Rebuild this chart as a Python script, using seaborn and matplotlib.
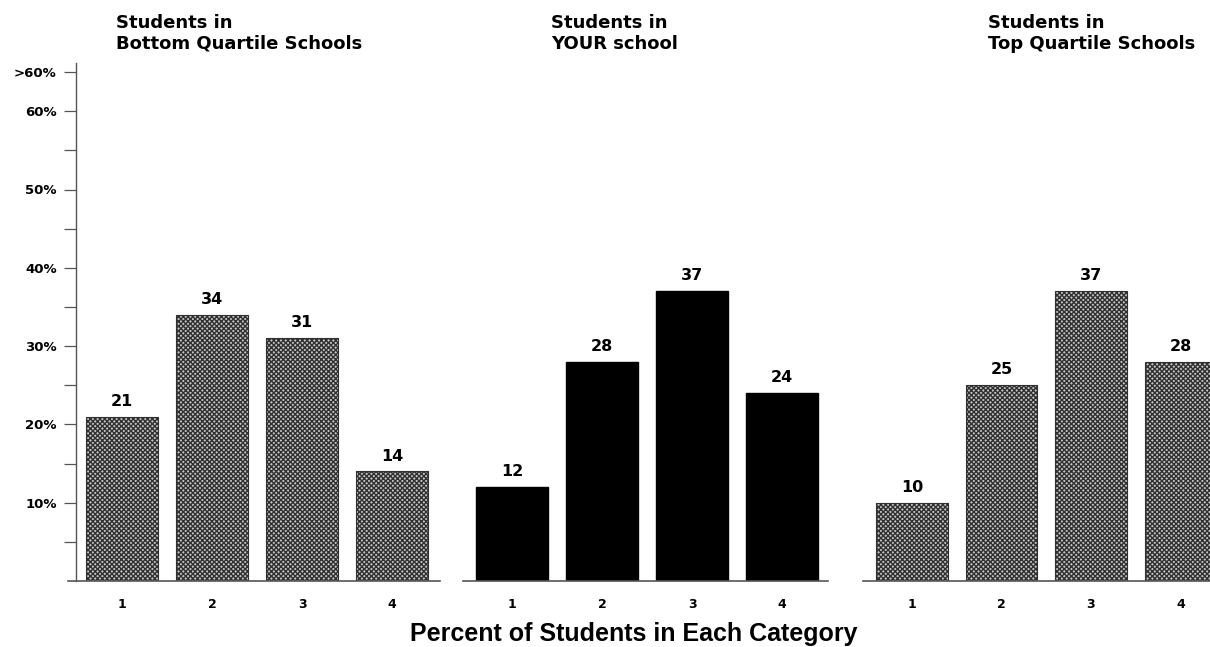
import pandas as pd
import numpy as np
import matplotlib
matplotlib.use("Agg")
import matplotlib.pyplot as plt
import seaborn as sns

categories = ["1", "2", "3", "4"]
bottom_vals = [21, 34, 31, 14]
your_vals = [12, 28, 37, 24]
top_vals = [10, 25, 37, 28]
titles = ["Students in\nBottom Quartile Schools", "Students in\nYOUR school", "Students in\nTop Quartile Schools"]
ytick_vals = [10, 20, 30, 40, 50, 60, 65]
ytick_labels = ["10%", "20%", "30%", "40%", "50%", "60%", ">60%"]

sns.set_style("white")
plt.rcParams['font.family'] = ['DejaVu Sans']
plt.rcParams['text.color'] = 'black'
plt.rcParams['xtick.color'] = 'black'
plt.rcParams['ytick.color'] = 'black'
plt.rcParams['hatch.linewidth'] = 1.0

fig = plt.figure(figsize=(12.1, 6.47), dpi=100)
W, H = 1210, 647
base = 581
top_px = 63
ppu = 7.83  # px per percent

# left px, right px, x-limits per panel
panels = [
    (68, 440, (-0.6, 3.53)),
    (463, 828, (-0.547, 3.51)),
    (863, 1210, (-0.547, 3.33)),
]
series = [bottom_vals, your_vals, top_vals]
title_x = [116, 551, 988]
grey = "#555555"

for i, (l, r, xl) in enumerate(panels):
    ax = fig.add_axes([l / W, (H - base) / H, (r - l) / W, (base - top_px) / H])
    df = pd.DataFrame({"cat": categories, "val": series[i]})
    if i == 1:
        sns.barplot(data=df, x="cat", y="val", color="black", saturation=1, width=0.8, ax=ax)
        for p in ax.patches:
            p.set_facecolor("black")
            p.set_edgecolor("black")
    else:
        sns.barplot(data=df, x="cat", y="val", color="white", saturation=1, width=0.8, ax=ax)
        for p in ax.patches:
            p.set_facecolor("#c4c4c4")
            p.set_edgecolor("#303030")
            p.set_hatch("xxxxxxx")
            p.set_linewidth(0.8)
    for j, v in enumerate(series[i]):
        ax.text(j, v + 1.0, str(v), ha="center", va="bottom", fontsize=11.5, fontweight="bold")
    ax.set_xlim(*xl)
    ax.set_ylim(0, (base - top_px) / ppu)
    ax.set_xlabel("")
    ax.set_ylabel("")
    ax.spines["top"].set_visible(False)
    ax.spines["right"].set_visible(False)
    ax.spines["bottom"].set_color(grey)
    ax.spines["bottom"].set_linewidth(1.2)
    ax.tick_params(axis="x", length=0, pad=12, labelsize=9)
    for t in ax.get_xticklabels():
        t.set_fontweight("bold")
    if i == 0:
        ax.spines["left"].set_position(("data", -0.51))
        ax.spines["left"].set_color(grey)
        ax.spines["left"].set_linewidth(1.0)
        ax.set_yticks(ytick_vals)
        ax.set_yticklabels(ytick_labels, fontsize=9.5, fontweight="bold")
        ax.set_yticks([5, 15, 25, 35, 45, 55], minor=True)
        ax.tick_params(axis="y", which="both", direction="out", length=9, width=0.9, color=grey, pad=5, left=True)
    else:
        ax.spines["left"].set_visible(False)
        ax.set_yticks([])
    fig.text(title_x[i] / W, 1 - 14 / H, titles[i], ha="left", va="top",
             fontsize=13, fontweight="bold", linespacing=1.2)

fig.text(634 / W, 1 - 634 / H, "Percent of Students in Each Category", ha="center", va="center",
         fontsize=18, fontweight="bold", family=["Liberation Sans", "DejaVu Sans"])

fig.savefig("out.png", dpi=100)
